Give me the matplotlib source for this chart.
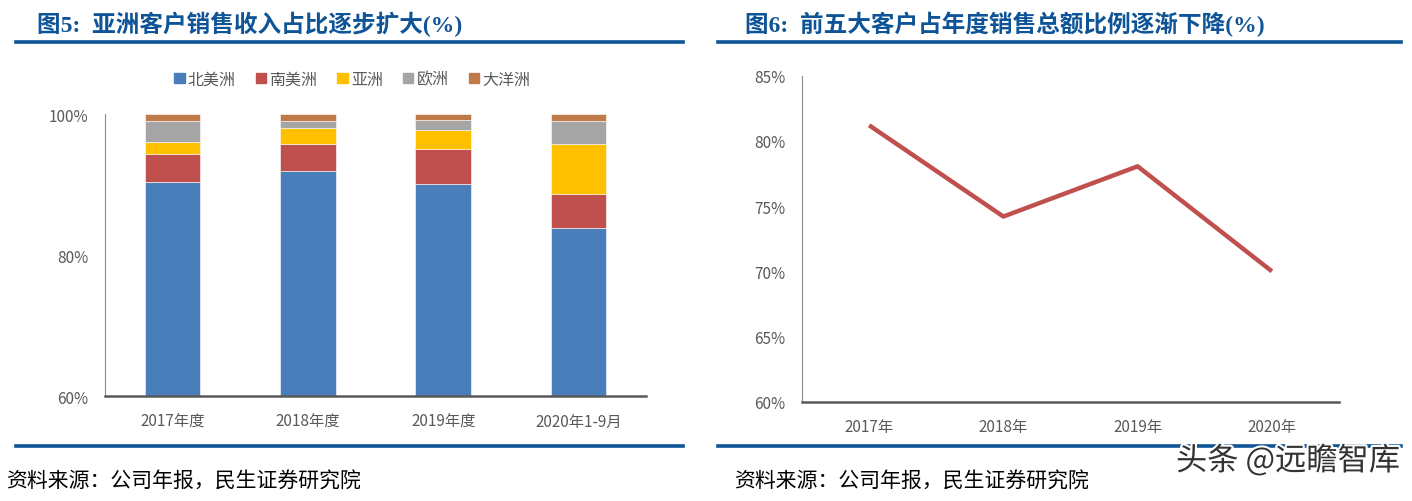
import matplotlib
matplotlib.use("Agg")
import matplotlib.pyplot as plt
import matplotlib.patheffects as pe
from matplotlib.patches import Patch
import numpy as np

plt.rcParams['font.family'] = ['Noto Sans CJK SC', 'DejaVu Sans']

# 图5 data (% of sales by region)
years5 = ['2017年度', '2018年度', '2019年度', '2020年1-9月']
regions = ['北美洲', '南美洲', '亚洲', '欧洲', '大洋洲']
north_america = [90.4, 92.0, 90.1, 83.8]
south_america = [4.0, 3.8, 5.0, 4.85]
asia = [1.7, 2.3, 2.7, 7.15]
europe = [2.9, 0.9, 1.4, 3.3]
oceania = [1.0, 1.0, 0.8, 0.9]

# 图6 data (top-5 customer share of sales, %)
years6 = ['2017年', '2018年', '2019年', '2020年']
top5_share = [81.2, 74.2, 78.05, 70.0]

colors = ['#4A7EBB', '#C0504D', '#FFC000', '#A5A5A5', '#C07A4A']
tick_color = '#595959'
blue_rule = '#0E5496'

fig = plt.figure(figsize=(14.12, 5.02), dpi=100)

# ---- left chart: stacked bars
ax1 = fig.add_axes([0.0744, 0.2086, 0.3831, 0.5618])
series = [north_america, south_america, asia, europe, oceania]
x = np.arange(len(years5))
bottom = np.zeros(len(years5))
for vals, c, name in zip(series, colors, regions):
    ax1.bar(x, vals, 0.41, bottom=bottom, color=c, edgecolor='white',
            linewidth=0.4, label=name)
    bottom += np.array(vals)
ax1.set_xlim(-0.5, len(years5) - 0.5)
ax1.set_ylim(60, 100)
ax1.set_yticks([60, 80, 100])
ax1.set_yticklabels(['60%', '80%', '100%'])
ax1.set_xticks(x)
ax1.set_xticklabels(years5)

handles = [Patch(color=c, label=r) for c, r in zip(colors, regions)]
leg = ax1.legend(handles=handles, ncol=5, loc='center', bbox_to_anchor=(0.457, 1.125),
                 frameon=False, fontsize=11.5, handlelength=0.65, handleheight=0.65,
                 handletextpad=0.2, columnspacing=1.25)
for t in leg.get_texts():
    t.set_color(tick_color)

# ---- right chart: line
ax2 = fig.add_axes([0.568, 0.1978, 0.3803, 0.6494])
x6 = np.arange(len(years6))
ax2.plot(x6, top5_share, color='#C0504D', lw=3.2, solid_capstyle='butt')
ax2.set_xlim(-0.5, len(years6) - 0.5)
ax2.set_ylim(60, 85)
ax2.set_yticks(np.arange(60, 86, 5))
ax2.set_yticklabels([f'{v}%' for v in range(60, 86, 5)])
ax2.set_xticks(x6)
ax2.set_xticklabels(years6)

for ax in (ax1, ax2):
    for s in ('top', 'right'):
        ax.spines[s].set_visible(False)
    ax.spines['left'].set_color('#8C8C8C')
    ax.spines['left'].set_linewidth(0.8)
    ax.spines['bottom'].set_color(tick_color)
    ax.spines['bottom'].set_linewidth(1.8)
    ax.tick_params(axis='both', length=0, labelsize=11, colors=tick_color)
    ax.tick_params(axis='x', pad=12)
    ax.tick_params(axis='y', pad=12)

# ---- titles, rules, footers
title_font = ['Liberation Serif', 'Noto Sans CJK SC']
fig.text(37 / 1412, 1 - 24 / 502, '图5:  亚洲客户销售收入占比逐步扩大(%)', fontsize=17,
         fontweight='bold', color=blue_rule, family=title_font, va='center')
fig.text(745 / 1412, 1 - 24 / 502, '图6:  前五大客户占年度销售总额比例逐渐下降(%)', fontsize=17,
         fontweight='bold', color=blue_rule, family=title_font, va='center')

for y in (42.5, 447):
    fy = 1 - y / 502
    fig.add_artist(plt.Line2D([16 / 1412, 683 / 1412], [fy, fy], color=blue_rule, lw=2.6))
    fig.add_artist(plt.Line2D([718 / 1412, 1401 / 1412], [fy, fy], color=blue_rule, lw=2.6))

footer = '资料来源：公司年报，民生证券研究院'
fig.text(6 / 1412, 1 - 482 / 502, footer, fontsize=15, color='black', va='center')
fig.text(734 / 1412, 1 - 482 / 502, footer, fontsize=15, color='black', va='center')

fig.text(1400 / 1412, 1 - 462 / 502, '头条 @远瞻智库', fontsize=22.5, color='#333333',
         ha='right', va='center',
         path_effects=[pe.withStroke(linewidth=3, foreground='white')])

fig.savefig('out.png', dpi=100)
